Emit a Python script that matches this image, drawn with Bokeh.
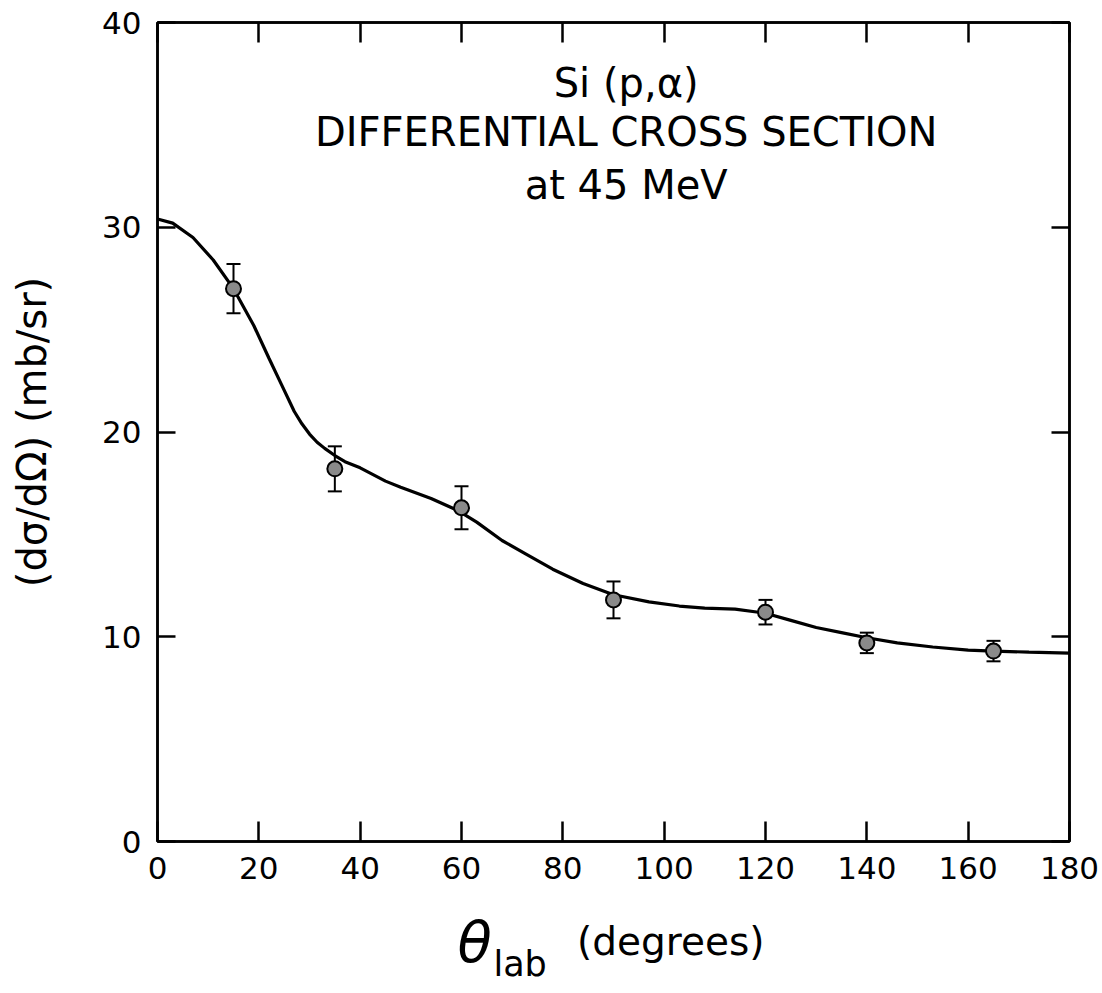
import math
from bokeh.plotting import figure
from bokeh.layouts import column
from bokeh.models import (Range1d, LinearAxis, FixedTicker, ColumnDataSource,
                          Whisker, TeeHead, Label)
from bokeh.core.properties import value
from bokeh.embed import file_html
from bokeh.resources import INLINE

# ---- data ----
theta = [15, 35, 60, 90, 120, 140, 165]
sigma = [27.0, 18.2, 16.3, 11.8, 11.2, 9.7, 9.3]
err = [1.2, 1.1, 1.05, 0.9, 0.6, 0.5, 0.5]

curve_x = [0, 3, 7, 11, 15, 19, 22, 24.5, 27, 28.5, 30, 31.5, 33, 35, 37, 40, 45,
           48, 54, 59.4, 63, 68, 73, 78, 84, 90, 97, 103, 108, 114, 120, 125, 130,
           135, 140, 146, 153, 160, 165, 172, 180]
curve_y = [30.4, 30.2, 29.5, 28.4, 27.0, 25.2, 23.6, 22.3, 21.0, 20.4, 19.9, 19.5,
           19.2, 18.85, 18.55, 18.25, 17.6, 17.3, 16.75, 16.15, 15.6, 14.7, 14.0,
           13.3, 12.6, 12.05, 11.7, 11.5, 11.4, 11.35, 11.15, 10.8, 10.45, 10.2,
           9.95, 9.7, 9.5, 9.35, 9.3, 9.25, 9.2]

x_ticks = [0, 20, 40, 60, 80, 100, 120, 140, 160, 180]
y_ticks = [0, 10, 20, 30, 40]

title_lines = ["Si (p,\u03b1)", "DIFFERENTIAL CROSS SECTION", "at 45 MeV"]
x_label_parts = ["\u03b8", "lab", "(degrees)"]
y_label = "(d\u03c3/d\u03a9) (mb/sr)"

FONT = "DejaVu Sans"

p = figure(width=1102, height=895, output_backend="svg", toolbar_location=None,
           x_range=Range1d(0, 180), y_range=Range1d(0, 40),
           min_border_left=157, min_border_right=33, min_border_top=22,
           min_border_bottom=54)
p.background_fill_color = "white"
p.border_fill_color = "white"
p.outline_line_color = "black"
p.outline_line_width = 2.5
p.grid.visible = False

def style_axis(ax, ticks, tick_in, show_labels):
    ax.ticker = FixedTicker(ticks=ticks)
    ax.major_tick_in = tick_in
    ax.major_tick_out = 0
    ax.minor_tick_line_color = None
    ax.axis_line_color = "black"
    ax.axis_line_width = 2.5
    ax.major_tick_line_color = "black"
    ax.major_tick_line_width = 2.5
    ax.major_label_text_font = FONT
    ax.major_label_text_color = "black"
    if show_labels:
        ax.major_label_text_font_size = "31px"
    else:
        ax.major_label_text_font_size = "0px"
        ax.major_label_text_alpha = 0

style_axis(p.xaxis[0], x_ticks, 20, True)
p.xaxis[0].major_label_standoff = 15
style_axis(p.yaxis[0], y_ticks, 18, True)
p.yaxis[0].major_label_standoff = 16
p.yaxis[0].axis_label = y_label
p.yaxis[0].axis_label_text_font = FONT
p.yaxis[0].axis_label_text_font_size = "40px"
p.yaxis[0].axis_label_text_font_style = "normal"
p.yaxis[0].axis_label_text_color = "black"
p.yaxis[0].axis_label_standoff = 44

top = LinearAxis()
style_axis(top, x_ticks, 20, False)
p.add_layout(top, "above")
right = LinearAxis()
style_axis(right, y_ticks, 18, False)
p.add_layout(right, "right")

# fitted curve
p.line(curve_x, curve_y, line_color="black", line_width=3.2)

# data with error bars
src = ColumnDataSource(dict(x=theta, y=sigma,
                            lo=[s - e for s, e in zip(sigma, err)],
                            hi=[s + e for s, e in zip(sigma, err)]))
p.add_layout(Whisker(source=src, base="x", lower="lo", upper="hi",
                     line_color="black", line_width=2,
                     lower_head=TeeHead(size=14, line_color="black", line_width=2),
                     upper_head=TeeHead(size=14, line_color="black", line_width=2)))
p.scatter("x", "y", source=src, size=15, fill_color="#8a8a8a",
          line_color="black", line_width=2)

# title block
for txt, yy in zip(title_lines, [37.03, 34.64, 32.05]):
    p.add_layout(Label(x=92.5, y=yy, text=txt, text_align="center",
                       text_baseline="alphabetic", text_font=FONT,
                       text_font_size="40px", text_color="black"))

# x-axis label strip below the chart
q = figure(width=1102, height=98, output_backend="svg", toolbar_location=None,
           x_range=Range1d(0, 180), y_range=Range1d(993, 895),
           min_border_left=157, min_border_right=33, min_border_top=0,
           min_border_bottom=0, x_axis_type=None, y_axis_type=None)
q.outline_line_color = None
q.grid.visible = False
q.background_fill_color = "white"
q.border_fill_color = "white"
q.text(x=[59.2], y=[942], text=[x_label_parts[0]], text_font=value(FONT),
       text_font_style="italic", text_font_size="56px", text_align="left",
       text_baseline="alphabetic", text_color="black")
q.text(x=[66.3], y=[963], text=[x_label_parts[1]], text_font=value(FONT),
       text_font_size="35px", text_align="left", text_baseline="alphabetic",
       text_color="black")
q.text(x=[82.8], y=[941], text=[x_label_parts[2]], text_font=value(FONT),
       text_font_size="39px", text_align="left", text_baseline="alphabetic",
       text_color="black")

layout = column(p, q, spacing=0)
open("out.html", "w").write(file_html(layout, INLINE))
